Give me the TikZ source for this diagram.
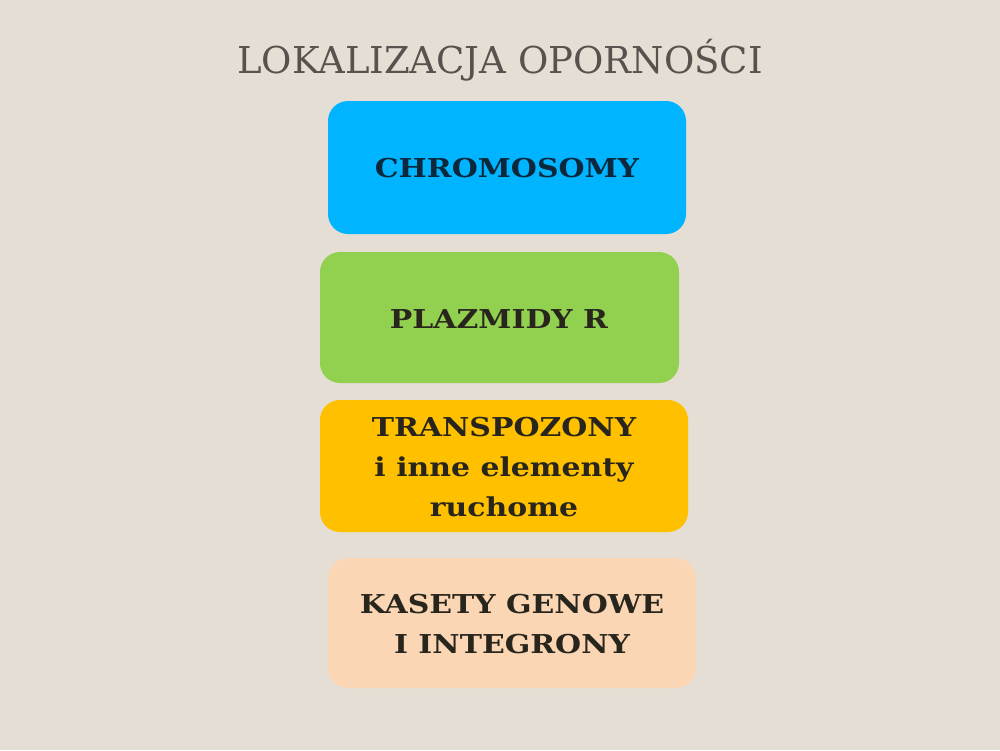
\documentclass[tikz,border=0pt]{standalone}
\usepackage{fontspec}
\setmainfont{DejaVu Serif}
\newfontfamily\boxfont[FakeStretch=1.15]{DejaVu Serif}
\definecolor{bg}{RGB}{228,222,212}
\definecolor{titlec}{RGB}{88,82,78}
\definecolor{cblue}{RGB}{0,180,255}
\definecolor{cgreen}{RGB}{146,208,80}
\definecolor{corange}{RGB}{255,192,0}
\definecolor{cpeach}{RGB}{251,214,180}
\definecolor{tnavy}{RGB}{12,40,60}
\definecolor{tdark}{RGB}{40,38,28}
\tikzset{
  boxtext/.style={font=\boxfont\bfseries\fontsize{26}{40}\selectfont, align=center, text=tdark},
}
\begin{document}
\begin{tikzpicture}[x=1pt,y=-1pt]
\fill[bg] (0,0) rectangle (1000,750);
\useasboundingbox (0,0) rectangle (1000,750);
\node[font=\fontsize{37}{40}\selectfont, text=titlec] (title) at (500,60) {LOKALIZACJA OPORNOŚCI};
\fill[cblue, rounded corners=20pt] (328,101) rectangle (686,234);
\node[boxtext, text=tnavy] (chrom) at (507,168) {CHROMOSOMY};
\fill[cgreen, rounded corners=20pt] (320,252) rectangle (679,383);
\node[boxtext] (plaz) at (499,319) {PLAZMIDY R};
\fill[corange, rounded corners=20pt] (320,400) rectangle (688,532);
\node[boxtext] (trans) at (504,467) {TRANSPOZONY\\i inne elementy\\ruchome};
\fill[cpeach, rounded corners=20pt] (328,558) rectangle (696,688);
\node[boxtext] (kas) at (512,624) {KASETY GENOWE\\I INTEGRONY};
\end{tikzpicture}
\end{document}
